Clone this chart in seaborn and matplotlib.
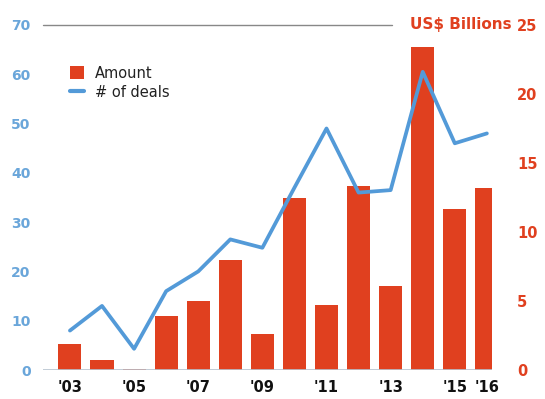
import numpy as np
import pandas as pd
import matplotlib
matplotlib.use("Agg")
import matplotlib.pyplot as plt
import seaborn as sns
from matplotlib.patches import Patch
from matplotlib.lines import Line2D

years = [2003, 2004, 2005, 2006, 2007, 2008, 2009, 2010, 2011, 2012, 2013, 2014, 2015, 2016]
amount_bn = [1.9, 0.7, 0.1, 3.9, 5.0, 8.0, 2.6, 12.5, 4.7, 13.3, 6.1, 23.4, 11.7, 13.2]
num_deals = [8, 13, 4.3, 16, 20, 26.5, 24.8, 37, 49, 36, 36.5, 60.5, 46, 48]
tick_years = [2003, 2005, 2007, 2009, 2011, 2013, 2015, 2016]
tick_labels = ["'03", "'05", "'07", "'09", "'11", "'13", "'15", "'16"]
left_ticks = [0, 10, 20, 30, 40, 50, 60, 70]
right_ticks = [0, 5, 10, 15, 20, 25]

RED = "#e0401f"
BLUE = "#539ad8"
LBLUE = "#6aa6da"

df = pd.DataFrame({"year": years, "amount": amount_bn, "deals": num_deals})

sns.set_theme(style="white")
plt.rcParams['font.family'] = ['DejaVu Sans']

fig = plt.figure(figsize=(5.45, 3.99), dpi=100)
ax = fig.add_axes([43/545, 1-370/399, (492-43)/545, (370-25)/399])
ax2 = ax.twinx()

sns.barplot(data=df, x="year", y="amount", ax=ax2, color=RED, width=0.72,
            native_scale=True, saturation=1, edgecolor="none")
sns.lineplot(data=df, x="year", y="deals", ax=ax, color=BLUE, linewidth=2.7)

ax.set_zorder(ax2.get_zorder() + 1)
ax.patch.set_visible(False)

ax.set_xlim(2003 - 0.84, 2016 + 0.16)
ax.set_ylim(0, 70)
ax2.set_ylim(0, 25)

ax.set_yticks(left_ticks)
ax.set_yticklabels([str(t) for t in left_ticks], color=LBLUE, fontsize=10, fontweight="bold")
ax2.set_yticks(right_ticks)
ax2.set_yticklabels([str(t) for t in right_ticks], color=RED, fontsize=10.5, fontweight="bold")
ax.set_xticks(tick_years)
ax.set_xticklabels(tick_labels, fontsize=10.5, fontweight="bold", color="#111111")

ax.tick_params(axis="y", length=0, pad=9)
ax2.tick_params(axis="y", length=0, pad=18)
ax.tick_params(axis="x", length=0, pad=7)

for a in (ax, ax2):
    for s in a.spines.values():
        s.set_visible(False)
    a.set_xlabel("")
    a.set_ylabel("")
    a.grid(False)

ax.axhline(0, color="#b8c4cf", linewidth=1.2, zorder=0)
ax.axhline(70, xmin=0, xmax=(392-43)/(492-43), color="#888888", linewidth=1.0, clip_on=False)
fig.text(512/545, 1-25/399, "US$ Billions", color=RED, fontsize=11, fontweight="bold",
         ha="right", va="center")

handles = [Patch(facecolor=RED, edgecolor="none"), Line2D([0], [0], color=BLUE, linewidth=3)]
leg = ax.legend(handles, ["Amount", "# of deals"], loc="upper left",
                bbox_to_anchor=(64/545, 1-60/399), bbox_transform=fig.transFigure,
                frameon=False, fontsize=10.5, handlelength=1.0, handleheight=1.0,
                handletextpad=0.7, labelspacing=0.3, borderaxespad=0)
for t in leg.get_texts():
    t.set_color("#222222")

fig.savefig("out.png", dpi=100)
